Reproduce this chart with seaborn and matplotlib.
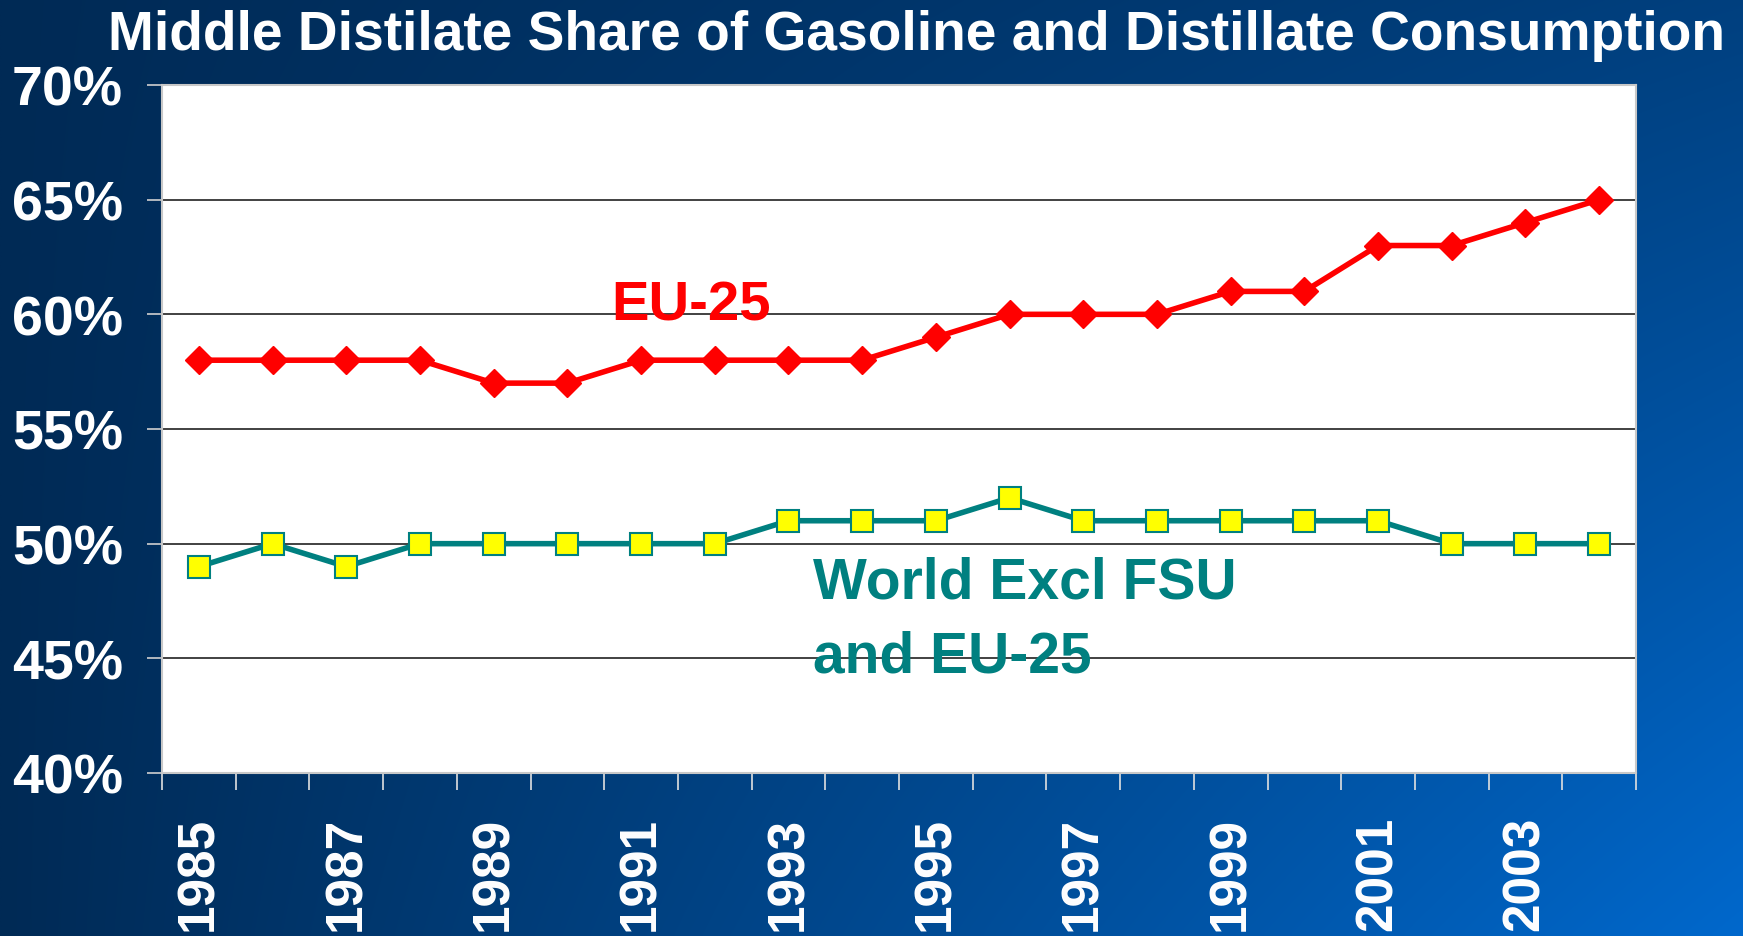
import numpy as np
import pandas as pd
import matplotlib
matplotlib.use("Agg")
import matplotlib.pyplot as plt
import seaborn as sns

years = list(range(1985, 2005))
eu25 = [58, 58, 58, 58, 57, 57, 58, 58, 58, 58, 59, 60, 60, 60, 61, 61, 63, 63, 64, 65]
world = [49, 50, 49, 50, 50, 50, 50, 50, 51, 51, 51, 52, 51, 51, 51, 51, 51, 50, 50, 50]
yticks = [40, 45, 50, 55, 60, 65, 70]
title = "Middle Distilate Share of Gasoline and Distillate Consumption"

sns.set_theme(style="white")
plt.rcParams['font.family'] = ['Liberation Sans', 'DejaVu Sans']
plt.rcParams['font.weight'] = 'bold'

W, H = 1743, 937
fig = plt.figure(figsize=(W / 100, H / 100), dpi=100)

# gradient background
bg = fig.add_axes([0, 0, 1, 1], zorder=-10)
u = np.linspace(0, 1, 400)[None, :]
v = np.linspace(0, 1, 220)[:, None]
t = u * (0.35 + 0.65 * v)
c0 = np.array([0, 42, 85]) / 255.0
c1 = np.array([0, 104, 204]) / 255.0
img = c0[None, None, :] * (1 - t[..., None]) + c1[None, None, :] * t[..., None]
bg.imshow(img, aspect='auto', extent=[0, 1, 0, 1], interpolation='bilinear')
bg.axis('off')

ax = fig.add_axes([162 / W, 1 - 774 / H, (1636 - 162) / W, (774 - 86) / H])
ax.set_facecolor('white')

idx = np.arange(len(years))
df = pd.DataFrame({'i': idx, 'eu': eu25, 'world': world})

sns.lineplot(data=df, x='i', y='eu', ax=ax, color='#ff0000', linewidth=4,
             marker='D', markersize=14, markerfacecolor='#ff0000',
             markeredgecolor='#ff0000', markeredgewidth=1, zorder=5)
sns.lineplot(data=df, x='i', y='world', ax=ax, color='#008080', linewidth=4,
             marker='s', markersize=16.5, markerfacecolor='#ffff00',
             markeredgecolor='#008080', markeredgewidth=1.5, zorder=5)

ax.set_xlim(-0.5, len(years) - 0.5)
ax.set_ylim(40, 70)
ax.set_xlabel('')
ax.set_ylabel('')

ax.set_yticks(yticks)
ax.set_yticklabels([f"{y}%" for y in yticks], color='white', fontsize=40,
                   fontweight='bold')
ax.yaxis.grid(True, color='#333333', linewidth=1.3)
ax.xaxis.grid(False)
ax.tick_params(axis='y', length=11, width=1.2, color='#d0d0d0', pad=17, left=True)

ax.set_xticks(np.arange(-0.5, len(years), 1.0))
ax.set_xticklabels([])
ax.set_xticks(idx[::2], minor=True)
ax.set_xticklabels([str(y) for y in years[::2]], minor=True, rotation=90,
                   color='white', fontsize=37, fontweight='bold')
ax.tick_params(axis='x', which='major', length=12, width=1.2, color='#e0e0e0',
               bottom=True, direction='out')
ax.tick_params(axis='x', which='minor', length=0, pad=31, bottom=True)

for s in ax.spines.values():
    s.set_color('#c8c8c8')
    s.set_linewidth(1.5)
    s.set_visible(True)

ax.text(5.59, 60.38, "EU-25", color='#ff0000', fontsize=40.5, fontweight='bold',
        ha='left', va='center')
ax.text(8.33, 48.3, "World Excl FSU", color='#008080', fontsize=41,
        fontweight='bold', ha='left', va='center')
ax.text(8.33, 45.1, "and EU-25", color='#008080', fontsize=41,
        fontweight='bold', ha='left', va='center')

fig.text(917 / W, 1 - 50 / H, title, color='white', fontsize=39.7,
         fontweight='bold', ha='center', va='baseline')

fig.savefig('out.png', dpi=100)
